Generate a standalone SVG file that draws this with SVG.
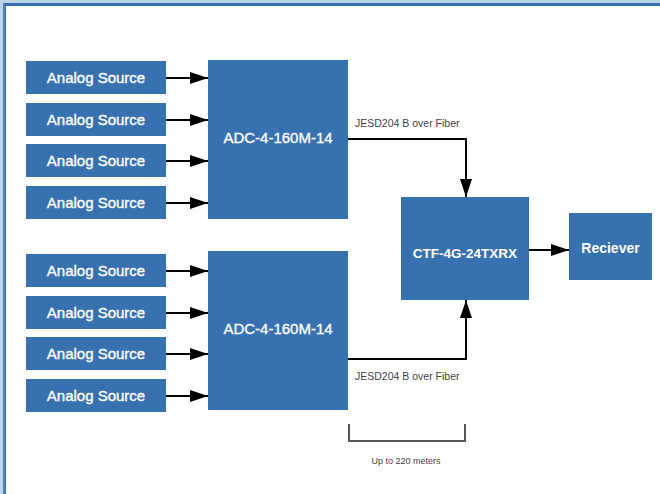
<svg xmlns="http://www.w3.org/2000/svg" width="660" height="494" viewBox="0 0 660 494">
<style>
.box{fill:#3771af}
.t{fill:#ffffff;font-family:"Liberation Sans",Arial,sans-serif;text-anchor:middle}
.src{font-size:15px;stroke:#ffffff;stroke-width:0.35}
.adc{font-size:15px;stroke:#ffffff;stroke-width:0.35}
.bold{font-size:13.5px;font-weight:bold}
.lbl{fill:#444444;font-family:"Liberation Sans",Arial,sans-serif;font-size:10.5px}
.small{fill:#444444;font-family:"Liberation Sans",Arial,sans-serif;font-size:9px;text-anchor:middle}
.c{stroke:#000000;stroke-width:2;fill:none}
</style>
<defs>
<marker id="ah" markerWidth="18" markerHeight="12" refX="18" refY="6" orient="auto" markerUnits="userSpaceOnUse">
<path d="M0,0 L18,6 L0,12 Z" fill="#000000"/>
</marker>
</defs>
<rect x="0" y="0" width="660" height="494" fill="#bdd3e8"/>
<rect x="3" y="3" width="657" height="491" fill="#3a70b1"/>
<rect x="3.5" y="3.5" width="1" height="490" fill="#6f98c8"/>
<rect x="6" y="6" width="654" height="488" fill="#ffffff"/>

<g id="src1"><rect class="box" x="26" y="61" width="140" height="33"/><text class="t src" x="96" y="82.7">Analog Source</text></g>
<g id="src2"><rect class="box" x="26" y="103" width="140" height="33"/><text class="t src" x="96" y="124.5">Analog Source</text></g>
<g id="src3"><rect class="box" x="26" y="144" width="140" height="33"/><text class="t src" x="96" y="165.5">Analog Source</text></g>
<g id="src4"><rect class="box" x="26" y="186" width="140" height="33"/><text class="t src" x="96" y="207.5">Analog Source</text></g>
<g id="src5"><rect class="box" x="26" y="254" width="140" height="33"/><text class="t src" x="96" y="275.5">Analog Source</text></g>
<g id="src6"><rect class="box" x="26" y="296" width="140" height="33"/><text class="t src" x="96" y="317.5">Analog Source</text></g>
<g id="src7"><rect class="box" x="26" y="337" width="140" height="33"/><text class="t src" x="96" y="358.5">Analog Source</text></g>
<g id="src8"><rect class="box" x="26" y="379" width="140" height="33"/><text class="t src" x="96" y="400.5">Analog Source</text></g>

<g id="adc1"><rect class="box" x="208" y="60" width="140" height="159"/><text class="t adc" x="278" y="142.7">ADC-4-160M-14</text></g>
<g id="adc2"><rect class="box" x="208" y="251" width="140" height="159"/><text class="t adc" x="278" y="333.5">ADC-4-160M-14</text></g>
<g id="ctf"><rect class="box" x="401" y="197" width="128" height="103"/><text class="t bold" x="465" y="257.7">CTF-4G-24TXRX</text></g>
<g id="rx"><rect class="box" x="569" y="213" width="83" height="67"/><text class="t bold" x="610.5" y="253" style="font-size:14px">Reciever</text></g>

<g id="connectors">
<line class="c" x1="166" y1="78" x2="208" y2="78" marker-end="url(#ah)"/>
<line class="c" x1="166" y1="120" x2="208" y2="120" marker-end="url(#ah)"/>
<line class="c" x1="166" y1="161" x2="208" y2="161" marker-end="url(#ah)"/>
<line class="c" x1="166" y1="203" x2="208" y2="203" marker-end="url(#ah)"/>
<line class="c" x1="166" y1="271" x2="208" y2="271" marker-end="url(#ah)"/>
<line class="c" x1="166" y1="313" x2="208" y2="313" marker-end="url(#ah)"/>
<line class="c" x1="166" y1="354" x2="208" y2="354" marker-end="url(#ah)"/>
<line class="c" x1="166" y1="396" x2="208" y2="396" marker-end="url(#ah)"/>
<path class="c" d="M348,139 H466 V197" marker-end="url(#ah)"/>
<path class="c" d="M348,359 H466 V300" marker-end="url(#ah)"/>
<line class="c" x1="529" y1="250" x2="569" y2="250" marker-end="url(#ah)"/>
</g>

<text class="lbl" x="355" y="126.7">JESD204 B over Fiber</text>
<text class="lbl" x="355" y="380">JESD204 B over Fiber</text>
<path d="M349,424 V441 H465 V424" fill="none" stroke="#555555" stroke-width="2"/>
<text class="small" x="406" y="464.3">Up to 220 meters</text>
</svg>
